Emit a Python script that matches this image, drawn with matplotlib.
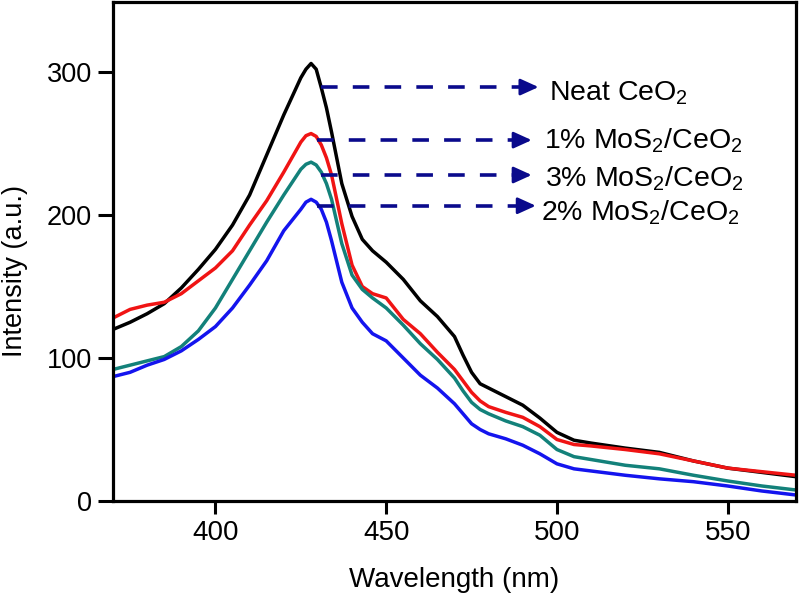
import matplotlib
matplotlib.use("Agg")
import matplotlib.pyplot as plt

plt.rcParams['font.family'] = ['Liberation Sans', 'DejaVu Sans']
plt.rcParams['mathtext.fontset'] = 'custom'
plt.rcParams['mathtext.rm'] = 'Liberation Sans'
plt.rcParams['mathtext.it'] = 'Liberation Sans:italic'
plt.rcParams['mathtext.bf'] = 'Liberation Sans:bold'

# ---- data ----
wavelength = [370, 375, 380, 385, 390, 395, 400, 405, 410, 415,
              420, 425, 426.5, 428, 429.5, 431, 432.5, 434, 437, 440,
              443, 446, 450, 455, 460, 465, 470, 472.5, 475, 477.5,
              480, 485, 490, 495, 500, 505, 510, 520, 530, 540,
              550, 560, 570]
neat_ceo2 = [120, 125, 131, 138, 149, 162, 176, 193, 214, 242,
             270, 296, 302, 306, 302, 289, 275, 258, 222, 199,
             183, 175, 167, 155, 140, 129, 115, 102, 90, 82,
             79, 73, 67, 58, 48, 42.5, 40.5, 37, 34, 28,
             23, 20, 17]
mos2_1 = [128, 134, 137, 139, 145, 154, 163, 175, 193, 210,
          230, 251, 255.5, 257, 255, 249, 240, 228, 194, 165,
          150, 145, 142, 127, 117, 104, 92, 84, 76, 70,
          66, 62, 58.5, 52, 43, 39.5, 38.5, 36, 33, 28,
          23, 20.5, 18]
mos2_3 = [92, 95, 98, 101, 108, 119, 135, 155, 175, 195,
          214, 232, 235.5, 237, 235, 230, 222, 211, 180, 158,
          148, 142, 135, 123, 110, 99, 86, 77, 69, 64,
          61, 56, 52, 46, 36, 31, 29, 25, 22.5, 18,
          14, 10.5, 7.7]
mos2_2 = [87, 90, 95, 99, 105, 113, 122, 135, 151, 168,
          189, 204, 209, 211, 209, 204, 195, 182, 153, 135,
          125, 117, 112, 100, 88, 79, 68, 61, 54, 50,
          47, 43.5, 39, 33, 26, 22.5, 21, 18, 15.5, 13.5,
          10.5, 7, 4.2]

series = [neat_ceo2, mos2_1, mos2_3, mos2_2]
colors = ['#000000', '#f01414', '#13817a', '#1414ee']

labels = [r'Neat CeO$_2$', r'1% MoS$_2$/CeO$_2$', r'3% MoS$_2$/CeO$_2$', r'2% MoS$_2$/CeO$_2$']
arrow_y = [289.5, 252.4, 228.0, 206.5]
arrow_start = [430.9, 429.8, 430.9, 429.8]
arrow_tip = [494.6, 492.6, 492.6, 493.8]
label_x = [497.6, 496.1, 496.6, 495.4]
label_y = [280.4, 246.6, 220.3, 196.5]

xticks = [400, 450, 500, 550]
yticks = [0, 100, 200, 300]

# ---- figure ----
W, H = 800, 598
fig = plt.figure(figsize=(W / 100, H / 100), dpi=100)
ax = fig.add_axes([113 / W, (H - 501) / H, (796 - 113) / W, (501 - 2) / H])

for ys, c in zip(series, colors):
    ax.plot(wavelength, ys, color=c, lw=2.5, solid_capstyle='round',
            solid_joinstyle='round')

navy = '#0a0a8c'
head_len = 4.4
for y0, x0, x1 in zip(arrow_y, arrow_start, arrow_tip):
    ax.plot([x0, x1 - head_len], [y0, y0], color=navy, lw=2.6,
            linestyle=(0, (4.6, 4.2)), solid_capstyle='butt')
    ax.annotate('', xy=(x1, y0), xytext=(x1 - head_len - 0.5, y0),
                arrowprops=dict(arrowstyle='-|>,head_length=0.55,head_width=0.25',
                                color=navy, lw=2.0, mutation_scale=20,
                                shrinkA=0, shrinkB=0))

for lab, x, y in zip(labels, label_x, label_y):
    ax.text(x, y, lab, fontsize=20.5, ha='left', va='baseline', color='black')

ax.set_xlim(370, 570)
ax.set_ylim(0, 349)
ax.set_xticks(xticks)
ax.set_yticks(yticks)
ax.set_xticklabels([str(v) for v in xticks], fontsize=20)
ax.set_yticklabels([str(v) for v in yticks], fontsize=19.5)
ax.tick_params(axis='y', direction='out', length=11, width=2.2, pad=4)
ax.tick_params(axis='x', direction='out', length=9, width=2.2, pad=5)
ax.tick_params(top=False, right=False)
for s in ax.spines.values():
    s.set_linewidth(2.3)

fig.text(15 / W, 1 - 271 / H, 'Intensity (a.u.)', rotation=90, ha='center', va='center',
         fontsize=19.5)
fig.text(454 / W, (H - 587) / H, 'Wavelength (nm)', ha='center', va='baseline',
         fontsize=20)

fig.savefig('out.png', dpi=100)
